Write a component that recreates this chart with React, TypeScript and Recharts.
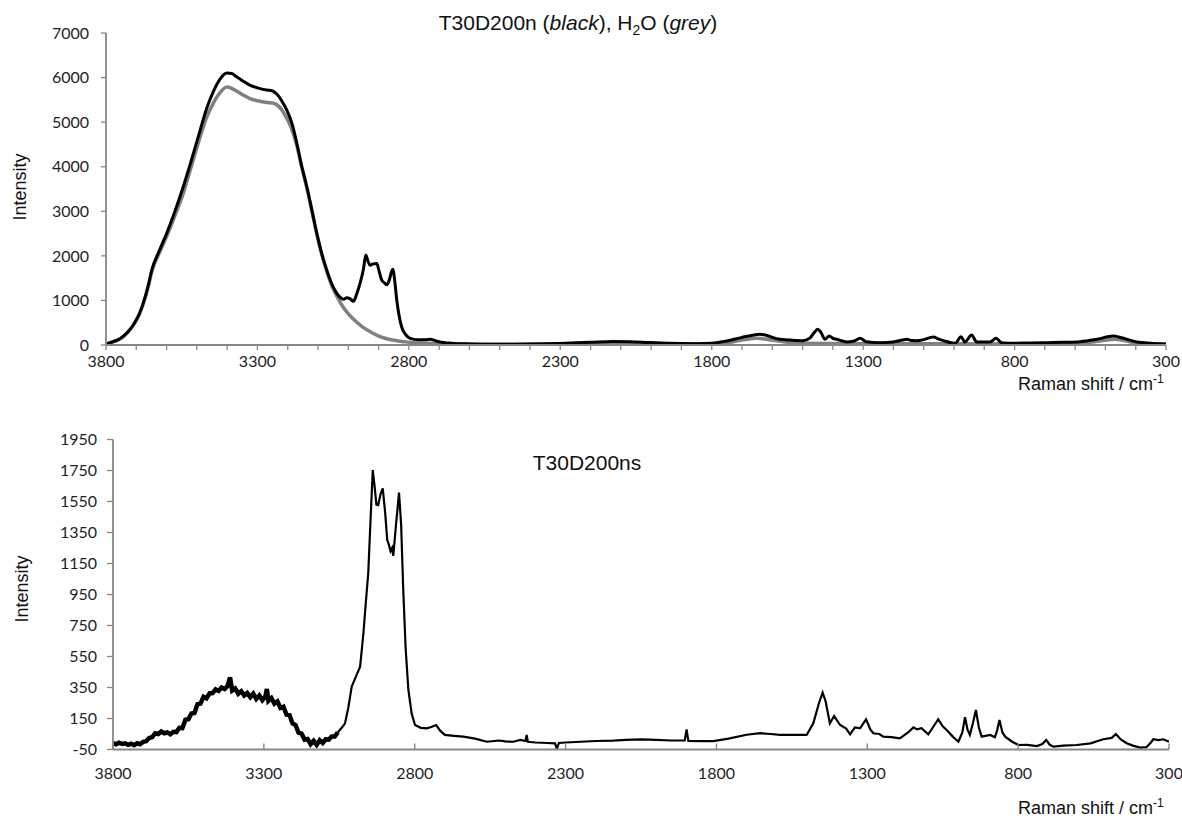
import { LineChart, Line, XAxis, YAxis } from "recharts";

// Top panel: T30D200n (black) and H2O (grey)
const sampleShift = [
  3800, 3770, 3750, 3730, 3710, 3690, 3677, 3660, 3649, 3625, 3600, 3575, 3545, 3520, 3490, 3468,
  3446, 3425, 3401, 3385, 3369, 3345, 3325, 3300, 3269, 3250, 3236, 3220, 3203, 3185, 3170, 3155,
  3137, 3120, 3104, 3088, 3071, 3055, 3038, 3025, 3016, 3005, 2995, 2983, 2972, 2961, 2950, 2942,
  2935, 2928, 2918, 2906, 2898, 2890, 2880, 2873, 2865, 2857, 2853, 2846, 2840, 2832, 2824, 2810,
  2796, 2770, 2745, 2730, 2710, 2686, 2650, 2600, 2500, 2400, 2300, 2200, 2126, 2050, 1950, 1850,
  1800, 1750, 1700, 1660, 1641, 1620, 1600, 1575, 1540, 1498, 1475, 1460, 1450, 1440, 1426, 1412,
  1400, 1387, 1354, 1330, 1310, 1290, 1244, 1201, 1170, 1156, 1140, 1123, 1100, 1068, 1050, 1035,
  996, 977, 964, 942, 925, 881, 861, 843, 804, 750, 694, 640, 584, 529, 474, 440, 397, 350, 300,
];
const sampleIntensity = [
  20, 90, 160, 280, 450, 700, 940, 1350, 1680, 2100, 2500, 2950, 3550, 4100, 4800, 5300,
  5680, 5950, 6100, 6090, 6020, 5910, 5830, 5770, 5720, 5700, 5630, 5480, 5270, 4950, 4530, 4050,
  3550, 3020, 2510, 2060, 1680, 1380, 1160, 1060, 1025, 1060, 1040, 980, 1150, 1390, 1700, 2020,
  1880, 1790, 1820, 1830, 1650, 1460, 1390, 1350, 1450, 1650, 1700, 1400, 1010, 650, 410, 230,
  150, 120, 120, 130, 90, 55, 35, 25, 15, 20, 35, 60, 80, 70, 40, 30,
  40, 90, 170, 225, 240, 220, 170, 128, 110, 97, 160, 290, 352, 290, 128, 202,
  150, 128, 68, 90, 150, 75, 52, 68, 110, 128, 100, 97, 120, 180, 130, 97,
  38, 187, 68, 224, 68, 68, 150, 52, 38, 45, 52, 60, 75, 128, 202, 150, 68, 40, 22,
];

const waterShift = [
  3800, 3770, 3750, 3730, 3710, 3690, 3677, 3660, 3649, 3625, 3600, 3575, 3545, 3523, 3490, 3468,
  3446, 3425, 3401, 3385, 3369, 3345, 3325, 3300, 3269, 3250, 3236, 3220, 3209, 3190, 3170, 3155,
  3137, 3120, 3104, 3088, 3071, 3055, 3038, 3020, 3006, 2980, 2951, 2920, 2895, 2870, 2840, 2810,
  2785, 2750, 2700, 2600, 2400, 2200, 2100, 2000, 1850, 1750, 1700, 1650, 1600, 1550, 1500, 1300,
  1100, 900, 700, 550, 470, 400, 300,
];
const waterIntensity = [
  20, 85, 150, 270, 440, 690, 920, 1320, 1640, 2050, 2430, 2860, 3400, 3900, 4650, 5100,
  5420, 5650, 5790, 5760, 5700, 5600, 5530, 5480, 5440, 5430, 5390, 5280, 5160, 4900, 4480, 4030,
  3530, 3000, 2490, 2040, 1650, 1340, 1100, 880, 748, 560, 396, 270, 187, 135, 97, 70,
  50, 40, 30, 20, 15, 40, 55, 40, 20, 50, 110, 150, 110, 60, 40, 30,
  30, 25, 30, 60, 130, 50, 15,
];

// Bottom panel: T30D200ns (noisy OH band, then the CH region and fingerprint)
const noisyShift = [
  3800, 3790, 3780, 3770, 3760, 3750, 3740, 3730, 3720, 3710, 3700, 3690, 3680, 3670, 3660, 3650,
  3640, 3630, 3620, 3610, 3600, 3590, 3580, 3570, 3560, 3550, 3540, 3530, 3520, 3510, 3500, 3490,
  3480, 3470, 3460, 3450, 3440, 3430, 3420, 3412, 3405, 3395, 3385, 3375, 3365, 3355, 3345, 3335,
  3325, 3315, 3305, 3295, 3290, 3285, 3275, 3265, 3255, 3245, 3235, 3225, 3215, 3205, 3195, 3185,
  3175, 3165, 3155, 3145, 3135, 3125, 3115, 3105, 3095, 3085, 3075, 3065, 3055,
];
const noisyIntensity = [
  -8, -16, -6, -14, -10, -20, -12, -22, -10, -16, 0, 4, 24, 30, 55, 50,
  66, 55, 60, 48, 64, 62, 90, 88, 142, 145, 182, 185, 242, 246, 290, 280,
  312, 314, 338, 328, 350, 340, 360, 415, 330, 344, 310, 326, 298, 314, 288, 310,
  276, 298, 268, 292, 340, 264, 282, 246, 260, 218, 226, 176, 172, 118, 108, 58,
  52, 14, 18, -16, 6, -20, 10, -8, 16, 14, 34, 34, 60,
];

const nsShift = [
  3055, 3040, 3031, 3020, 3009, 2995, 2981, 2970, 2962, 2954, 2946, 2939, 2933, 2927, 2921, 2913,
  2906, 2898, 2891, 2887, 2880, 2875, 2871, 2862, 2852, 2845, 2838, 2830, 2821, 2810, 2799, 2780,
  2760, 2745, 2729, 2715, 2700, 2670, 2639, 2600, 2561, 2520, 2500, 2473, 2450, 2433, 2429, 2425,
  2400, 2360, 2335, 2329, 2322, 2300, 2250, 2200, 2142, 2100, 2050, 2000, 1950, 1905, 1899, 1893,
  1850, 1810, 1760, 1700, 1655, 1620, 1589, 1550, 1501, 1479, 1460, 1448, 1438, 1424, 1410, 1390,
  1370, 1357, 1341, 1324, 1304, 1290, 1280, 1260, 1247, 1220, 1192, 1165, 1147, 1135, 1120, 1098,
  1080, 1065, 1050, 1037, 1015, 998, 985, 976, 968, 960, 950, 940, 930, 921, 893, 877,
  870, 862, 852, 843, 820, 799, 770, 738, 720, 707, 695, 683, 650, 606, 560, 518,
  490, 476, 460, 440, 420, 396, 375, 360, 352, 335, 319, 300,
];
const nsIntensity = [
  60, 95, 119, 220, 355, 420, 484, 700, 900, 1087, 1450, 1753, 1650, 1530, 1527, 1600,
  1635, 1480, 1300, 1280, 1230, 1250, 1200, 1400, 1607, 1400, 979, 600, 334, 180, 108, 90,
  87, 95, 108, 70, 44, 38, 33, 20, 0, 8, 2, 0, 12, 5, 44, 0,
  -5, -8, -10, -45, -8, -5, 0, 5, 7, 12, 15, 12, 8, 8, 80, 5,
  4, 4, 20, 45, 55, 50, 44, 44, 44, 119, 250, 317, 260, 119, 166, 108,
  85, 48, 93, 87, 145, 80, 55, 50, 33, 30, 22, 60, 93, 80, 87, 48,
  100, 145, 100, 76, 30, 0, 60, 158, 80, 44, 120, 205, 90, 33, 44, 29,
  70, 140, 60, 33, 0, -21, -20, -28, -15, 11, -20, -32, -25, -21, -10, 16,
  25, 50, 15, -10, -25, -38, -35, -5, 16, 10, 16, 0,
];

const topXTicks = [
  3800, 3700, 3600, 3500, 3400, 3300, 3200, 3100, 3000, 2900, 2800, 2700, 2600, 2500, 2400, 2300,
  2200, 2100, 2000, 1900, 1800, 1700, 1600, 1500, 1400, 1300, 1200, 1100, 1000, 900, 800, 700,
  600, 500, 400, 300,
];
const bottomXTicks = [3800, 3300, 2800, 2300, 1800, 1300, 800, 300];
const topYTicks = [0, 1000, 2000, 3000, 4000, 5000, 6000, 7000];
const bottomYTicks = [-50, 150, 350, 550, 750, 950, 1150, 1350, 1550, 1750, 1950];

const AXIS = "#878787";
const TICK_FONT = "Lato, 'Open Sans', sans-serif";
const TEXT_FONT = "'Liberation Sans', Arial, sans-serif";

const zip = (xs: number[], ys: number[]) => xs.map((x, i) => ({ x, y: ys[i] }));

const sampleData = zip(sampleShift, sampleIntensity);
const waterData = zip(waterShift, waterIntensity);
const noisyData = zip(noisyShift, noisyIntensity);
const nsData = zip(nsShift, nsIntensity);

const tickStyle = { fill: "#1e1e1e", fontSize: 16, fontFamily: TICK_FONT };

function InnerTick({ x, y, payload }: any) {
  return (
    <g>
      <line x1={x} y1={y} x2={x} y2={y - 6} stroke={AXIS} strokeWidth={1.4} />
      <text x={x} y={y + 18.5} dy="0.71em" textAnchor="middle" {...tickStyle}>
        {payload.value}
      </text>
    </g>
  );
}

export default function App() {
  return (
    <div
      style={{
        position: "absolute",
        left: 0,
        top: 0,
        width: 1182,
        height: 820,
        background: "#fff",
        overflow: "hidden",
      }}
    >
      <div style={{ position: "absolute", left: 0, top: 0 }}>
        <LineChart width={1182} height={400} margin={{ top: 33, right: 16, bottom: 25, left: 46 }}>
          <XAxis
            type="number"
            dataKey="x"
            domain={[300, 3800]}
            reversed
            ticks={topXTicks}
            interval={0}
            height={30}
            tickFormatter={(v: number) => ((3800 - v) % 500 === 0 ? String(v) : "")}
            tick={tickStyle}
            tickSize={5}
            tickMargin={6}
            stroke={AXIS}
            axisLine={{ stroke: AXIS, strokeWidth: 1.8 }}
            tickLine={{ stroke: AXIS, strokeWidth: 1.3 }}
            allowDataOverflow
          />
          <YAxis
            type="number"
            domain={[0, 7000]}
            ticks={topYTicks}
            interval={0}
            width={60}
            tick={tickStyle}
            tickSize={5}
            tickMargin={12}
            stroke={AXIS}
            axisLine={{ stroke: AXIS, strokeWidth: 1.8 }}
            tickLine={{ stroke: AXIS, strokeWidth: 1.3 }}
          />
          <Line
            data={waterData}
            dataKey="y"
            type="monotone"
            stroke="#808080"
            strokeWidth={3.5}
            dot={false}
            isAnimationActive={false}
          />
          <Line
            data={sampleData}
            dataKey="y"
            type="monotone"
            stroke="#000"
            strokeWidth={3}
            dot={false}
            isAnimationActive={false}
          />
        </LineChart>
      </div>

      <div style={{ position: "absolute", left: 0, top: 400 }}>
        <LineChart width={1182} height={420} margin={{ top: 39.5, right: 13, bottom: 40.5, left: 53 }}>
          <XAxis
            type="number"
            dataKey="x"
            domain={[300, 3800]}
            reversed
            ticks={bottomXTicks}
            interval={0}
            height={30}
            tick={<InnerTick />}
            tickSize={0}
            tickMargin={0}
            stroke={AXIS}
            axisLine={{ stroke: AXIS, strokeWidth: 1.8 }}
            tickLine={false}
            allowDataOverflow
          />
          <YAxis
            type="number"
            domain={[-50, 1950]}
            ticks={bottomYTicks}
            interval={0}
            width={60}
            tick={tickStyle}
            tickSize={6}
            tickMargin={10}
            stroke={AXIS}
            axisLine={{ stroke: AXIS, strokeWidth: 1.8 }}
            tickLine={{ stroke: AXIS, strokeWidth: 1.3 }}
            allowDataOverflow
          />
          <Line
            data={noisyData}
            dataKey="y"
            type="linear"
            stroke="#000"
            strokeWidth={4.5}
            dot={false}
            isAnimationActive={false}
          />
          <Line
            data={nsData}
            dataKey="y"
            type="linear"
            stroke="#000"
            strokeWidth={2.2}
            dot={false}
            isAnimationActive={false}
          />
        </LineChart>
      </div>

      <svg
        width={1182}
        height={820}
        style={{ position: "absolute", left: 0, top: 0, pointerEvents: "none" }}
        fontFamily={TEXT_FONT}
        fill="#111"
      >
        <text x={578} y={30} fontSize={21} textAnchor="middle">
          T30D200n (<tspan fontStyle="italic">black</tspan>), H
          <tspan fontSize={14} dy={5}>2</tspan>
          <tspan dy={-5}>O (</tspan>
          <tspan fontStyle="italic">grey</tspan>)
        </text>
        <text x={587} y={470} fontSize={21} textAnchor="middle">
          T30D200ns
        </text>
        <text x={26} y={187} fontSize={18} textAnchor="middle" transform="rotate(-90 26 187)">
          Intensity
        </text>
        <text x={28} y={589} fontSize={18} textAnchor="middle" transform="rotate(-90 28 589)">
          Intensity
        </text>
        <text x={1018} y={390} fontSize={18}>
          Raman shift / cm<tspan fontSize={12} dy={-7}>-1</tspan>
        </text>
        <text x={1018} y={814} fontSize={18}>
          Raman shift / cm<tspan fontSize={12} dy={-7}>-1</tspan>
        </text>
      </svg>
    </div>
  );
}
